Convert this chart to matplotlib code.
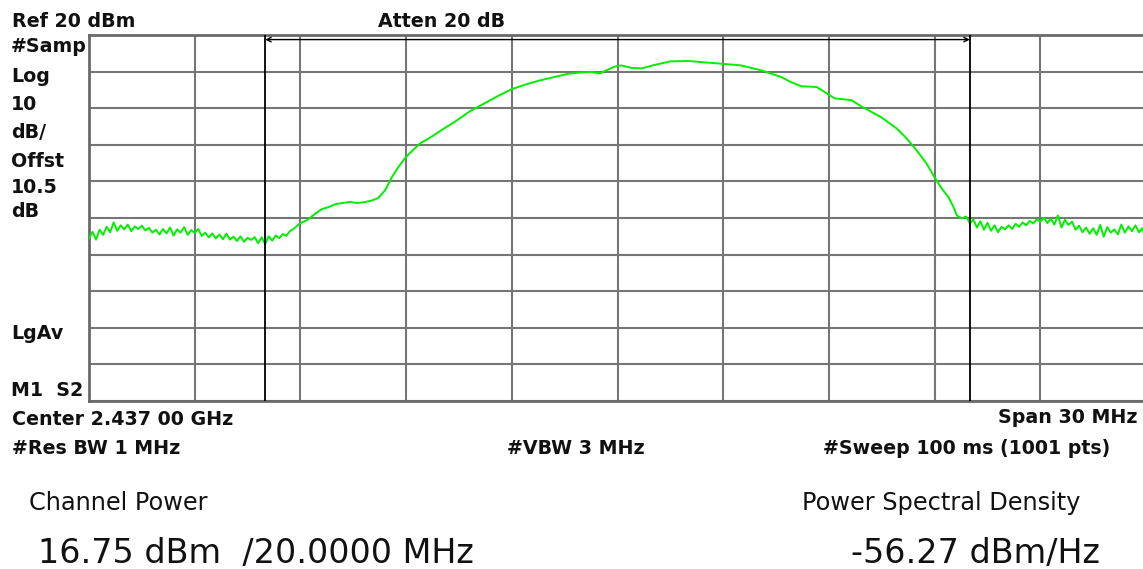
import matplotlib.pyplot as plt

# Spectrum analyzer settings (frequency as offset from centre, MHz)
center_ghz = 2.437
span_mhz = 30
ref_dbm = 20
db_per_div = 10
channel_edges = [-10, 10]

# Trace
freq_mhz = [
    -15.0, -14.9, -14.8, -14.7, -14.6, -14.5, -14.4, -14.3, -14.2, -14.1,
    -14.0, -13.9, -13.8, -13.7, -13.6, -13.5, -13.4, -13.3, -13.2, -13.1,
    -13.0, -12.9, -12.8, -12.7, -12.6, -12.5, -12.4, -12.3, -12.2, -12.1,
    -12.0, -11.9, -11.8, -11.7, -11.6, -11.5, -11.4, -11.3, -11.2, -11.1,
    -11.0, -10.9, -10.8, -10.7, -10.6, -10.5, -10.4, -10.3, -10.2, -10.1,
    -10.0, -9.9, -9.8, -9.7, -9.6, -9.5, -9.4, -9.3, -9.2, -9.1,
    -9.0, -8.8, -8.6, -8.4, -8.2, -8.0, -7.8, -7.6, -7.4, -7.2,
    -7.0, -6.8, -6.6, -6.4, -6.2, -6.0, -5.8, -5.6, -5.4, -5.2,
    -5.0, -4.6, -4.2, -3.8, -3.4, -3.0, -2.6, -2.2, -1.8, -1.4,
    -1.0, -0.75, -0.5, -0.3, -0.1, 0.1, 0.4, 0.7, 1.0, 1.5,
    2.0, 2.4, 2.9, 3.5, 3.8, 4.1, 4.65, 4.93, 5.22, 5.65,
    5.93, 6.16, 6.64, 6.92, 7.49, 7.92, 8.2, 8.49, 8.77, 9.0,
    9.2, 9.4, 9.54, 9.63, 9.77,
    9.9, 10.0, 10.1, 10.2, 10.3, 10.4, 10.5, 10.6, 10.7, 10.8,
    10.9, 11.0, 11.1, 11.2, 11.3, 11.4, 11.5, 11.6, 11.7, 11.8,
    11.9, 12.0, 12.1, 12.2, 12.3, 12.4, 12.5, 12.6, 12.7, 12.8,
    12.9, 13.0, 13.1, 13.2, 13.3, 13.4, 13.5, 13.6, 13.7, 13.8,
    13.9, 14.0, 14.1, 14.2, 14.3, 14.4, 14.5, 14.6, 14.7, 14.8,
    14.9, 15.0,
]
level_dbm = [
    -35.5, -33.8, -35.9, -33.2, -34.6, -32.4, -33.9, -31.2, -33.5, -32.0,
    -33.1, -31.8, -33.6, -32.3, -33.0, -32.1, -33.4, -32.7, -34.0, -33.2,
    -34.5, -33.0, -34.2, -32.6, -34.8, -33.1, -34.0, -32.5, -34.6, -33.3,
    -34.1, -33.0, -34.9, -34.0, -35.3, -34.2, -35.6, -34.5, -35.8, -34.3,
    -35.9, -35.1, -36.3, -35.0, -36.5, -35.4, -36.0, -35.2, -36.9, -35.3,
    -37.1, -35.0, -36.2, -34.8, -35.5, -34.4, -34.9, -33.6, -33.0, -32.2,
    -31.4, -30.5, -29.0, -27.6, -27.0, -26.2, -25.9, -25.6, -25.9, -25.7,
    -25.3, -24.6, -22.5, -18.8, -15.8, -13.3, -11.4, -9.6, -8.5, -7.3,
    -6.0, -3.6, -0.9, 1.2, 3.3, 5.2, 6.5, 7.6, 8.5, 9.4,
    9.8, 9.9, 9.5, 10.4, 11.3, 11.7, 11.0, 10.9, 11.7, 12.8,
    12.9, 12.6, 12.2, 11.7, 11.0, 10.3, 8.5, 7.1, 6.0, 5.8,
    4.1, 2.7, 2.2, 0.5, -2.5, -5.5, -8.2, -11.5, -15.1, -18.9,
    -21.9, -24.4, -27.1, -29.3, -30.1,
    -29.6, -31.5, -30.4, -32.6, -30.9, -33.2, -31.3, -33.5, -32.0, -33.9,
    -32.4, -33.1, -32.0, -33.0, -31.6, -32.4, -31.2, -32.0, -30.8, -31.5,
    -30.3, -31.0, -29.9, -31.4, -30.2, -31.8, -29.3, -32.6, -30.5, -31.9,
    -31.0, -33.2, -32.1, -33.9, -32.6, -34.3, -32.8, -34.6, -31.9, -35.1,
    -32.5, -34.0, -33.1, -34.5, -31.8, -34.0, -32.3, -33.6, -32.0, -33.9,
    -32.8, -36.0,
]

W, H = 1143, 569
fig = plt.figure(figsize=(W / 100, H / 100), dpi=100)
fig.patch.set_facecolor('white')


def px(x, y):
    return x / W, 1 - y / H


# plot area in pixels: left 89, right 1146 (just past the screenshot edge), top 35, bottom 401
ax = fig.add_axes([89 / W, 1 - 401 / H, (1146 - 89) / W, (401 - 35) / H])
ax.set_xlim(-span_mhz / 2, span_mhz / 2)
ax.set_ylim(ref_dbm - 10 * db_per_div, ref_dbm)
ax.set_xticks([-15 + 3 * i for i in range(11)])
ax.set_yticks([ref_dbm - db_per_div * i for i in range(11)])
ax.tick_params(left=False, bottom=False, labelleft=False, labelbottom=False)
ax.grid(True, color='#767676', lw=1.5)
for s in ax.spines.values():
    s.set_color('#6a6a6a')
    s.set_linewidth(2)

ax.plot(freq_mhz, level_dbm, color='#00f000', lw=1.4, zorder=3)

# channel power integration markers
for f in channel_edges:
    ax.axvline(f, color='black', lw=1.3, zorder=4)
ax.annotate('', xy=(channel_edges[0], 18.75), xytext=(channel_edges[1], 18.75),
            arrowprops=dict(arrowstyle='<->', color='black', lw=1.0,
                            mutation_scale=8, shrinkA=0, shrinkB=0), zorder=4)

bold = dict(family='DejaVu Sans', weight='bold', fontsize=13.7, color='#111111',
            va='baseline')
fig.text(*px(12, 27), f'Ref {ref_dbm} dBm', **bold)
fig.text(*px(378, 27), 'Atten 20 dB', **bold)
left_labels = [('#Samp', 52), ('Log', 82), ('10', 110), ('dB/', 138),
               ('Offst', 167), ('10.5', 193), ('dB', 217), ('LgAv', 339),
               ('M1  S2', 396)]
for txt, y in left_labels:
    fig.text(*px(11, y), txt, **bold)
fig.text(*px(12, 425), f'Center {center_ghz:.3f} 00 GHz', **bold)
fig.text(*px(1137, 423), f'Span {span_mhz} MHz', ha='right', **bold)
fig.text(*px(12, 454), '#Res BW 1 MHz', **bold)
fig.text(*px(507, 454), '#VBW 3 MHz', **bold)
fig.text(*px(823, 454), '#Sweep 100 ms (1001 pts)', **bold)

reg = dict(family='DejaVu Sans', color='#111111', va='baseline')
fig.text(*px(29, 510), 'Channel Power', fontsize=17.3, **reg)
fig.text(*px(802, 510), 'Power Spectral Density', fontsize=17.3, **reg)
fig.text(*px(38, 563), '16.75 dBm  /20.0000 MHz', fontsize=24, **reg)
fig.text(*px(851, 563), '-56.27 dBm/Hz', fontsize=24, **reg)

fig.savefig('out.png', dpi=100)
